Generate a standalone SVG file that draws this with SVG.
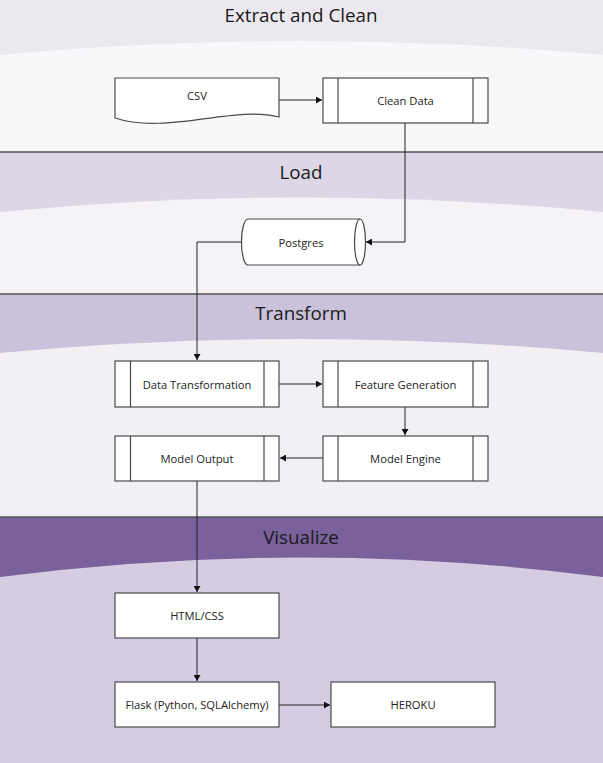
<svg xmlns="http://www.w3.org/2000/svg" width="603" height="763" viewBox="0 0 603 763">
<style>
.title{font-family:"Open Sans","Noto Sans","DejaVu Sans",sans-serif;font-size:18.8px;fill:#1a1a1a;text-anchor:middle}
.lbl{font-family:"Open Sans","Noto Sans","DejaVu Sans",sans-serif;font-size:11.2px;fill:#222;text-anchor:middle;dominant-baseline:central}
.box{fill:#fff;stroke:#4a4a4a;stroke-width:1.2}
.inner{stroke:#4a4a4a;stroke-width:1.2;fill:none}
.sep{stroke:#555;stroke-width:1.3}
.conn{fill:none;stroke:#222;stroke-width:1}
</style>
<defs>
<marker id="arr" markerWidth="7" markerHeight="7" refX="6" refY="3.5" orient="auto" markerUnits="userSpaceOnUse">
<path d="M0,0 L6,3.5 L0,7 Z" fill="#111"/>
</marker>
</defs>
<g id="lanes">
<rect x="0" y="0" width="603" height="152" fill="#ebe8f0"/>
<path d="M0,55 Q301.5,27 603,55 V152 H0 Z" fill="#f8f7fa"/>
<rect x="0" y="152" width="603" height="142" fill="#ddd6e6"/>
<path d="M0,212 Q301.5,183 603,212 V294 H0 Z" fill="#f5f3f8"/>
<rect x="0" y="294" width="603" height="223" fill="#cbc1da"/>
<path d="M0,353 Q301.5,325 603,353 V517 H0 Z" fill="#f2f0f5"/>
<rect x="0" y="517" width="603" height="246" fill="#7b619b"/>
<path d="M0,577 Q301.5,538 603,577 V763 H0 Z" fill="#d5cce1"/>
<line class="sep" x1="0" y1="152" x2="603" y2="152"/>
<line class="sep" x1="0" y1="294" x2="603" y2="294"/>
<line class="sep" x1="0" y1="517" x2="603" y2="517"/>
<text class="title" x="301" y="21.5">Extract and Clean</text>
<text class="title" x="301" y="178.5">Load</text>
<text class="title" x="301" y="319.5">Transform</text>
<text class="title" x="301" y="543.5">Visualize</text>
</g>
<g id="connectors">
<line class="conn" x1="279" y1="100" x2="322" y2="100" marker-end="url(#arr)"/>
<polyline class="conn" points="405,123 405,242 366,242" marker-end="url(#arr)"/>
<polyline class="conn" points="241.5,242 197,242 197,360" marker-end="url(#arr)"/>
<line class="conn" x1="279" y1="384" x2="322" y2="384" marker-end="url(#arr)"/>
<line class="conn" x1="405" y1="407" x2="405" y2="435" marker-end="url(#arr)"/>
<line class="conn" x1="323" y1="458" x2="280" y2="458" marker-end="url(#arr)"/>
<line class="conn" x1="197" y1="481" x2="197" y2="592" marker-end="url(#arr)"/>
<line class="conn" x1="197" y1="638" x2="197" y2="681" marker-end="url(#arr)"/>
<line class="conn" x1="279" y1="705" x2="330" y2="705" marker-end="url(#arr)"/>
</g>
<g id="csv">
<path class="box" d="M115,78 H279 V117 C235,105 165,135 115,118 Z"/>
<text class="lbl" x="197" y="95">CSV</text>
</g>
<g id="clean-data">
<rect class="box" x="323" y="78" width="165" height="45"/>
<path class="inner" d="M338,78 V123 M473,78 V123"/>
<text class="lbl" x="405.5" y="100.5">Clean Data</text>
</g>
<g id="postgres">
<path class="box" d="M248,219 H360 A5.5,23 0 0 1 360,265 H248 A6.5,23 0 0 1 248,219 Z"/>
<path class="inner" d="M360,219 A5.5,23 0 0 0 360,265"/>
<text class="lbl" x="301" y="242">Postgres</text>
</g>
<g id="data-transformation">
<rect class="box" x="115" y="361" width="164" height="46"/>
<path class="inner" d="M130.5,361 V407 M264,361 V407"/>
<text class="lbl" x="197" y="384">Data Transformation</text>
</g>
<g id="feature-generation">
<rect class="box" x="323" y="361" width="165" height="46"/>
<path class="inner" d="M338,361 V407 M473,361 V407"/>
<text class="lbl" x="405.5" y="384">Feature Generation</text>
</g>
<g id="model-engine">
<rect class="box" x="323" y="436" width="165" height="45"/>
<path class="inner" d="M338,436 V481 M473,436 V481"/>
<text class="lbl" x="405.5" y="458.5">Model Engine</text>
</g>
<g id="model-output">
<rect class="box" x="115" y="436" width="164" height="45"/>
<path class="inner" d="M130.5,436 V481 M264,436 V481"/>
<text class="lbl" x="197" y="458.5">Model Output</text>
</g>
<g id="html-css">
<rect class="box" x="115" y="593" width="164" height="45"/>
<text class="lbl" x="197" y="615.5">HTML/CSS</text>
</g>
<g id="flask">
<rect class="box" x="115" y="682" width="164" height="45"/>
<text class="lbl" x="197" y="704.5">Flask (Python, SQLAlchemy)</text>
</g>
<g id="heroku">
<rect class="box" x="331" y="682" width="164" height="45"/>
<text class="lbl" x="413" y="704.5">HEROKU</text>
</g>
</svg>
